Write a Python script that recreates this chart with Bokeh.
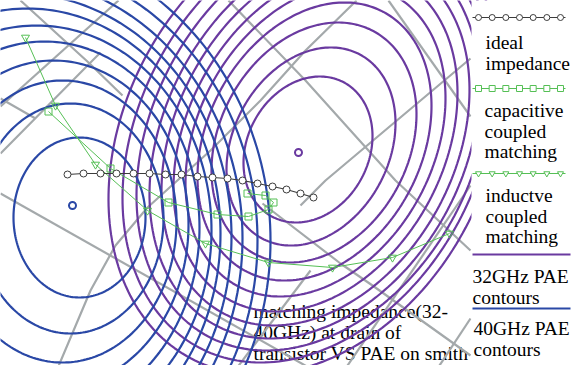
import numpy as np
from bokeh.plotting import figure
from bokeh.models import Range1d
from bokeh.core.properties import value
from bokeh.embed import file_html
from bokeh.resources import INLINE

# ------------------------------------------------------------------
# Data (picture pixel space, y downward)
# ------------------------------------------------------------------
# 40 GHz PAE contours (blue): centre and half extents
blue_cx = [79, 70, 62, 53, 44, 36, 27, 18, 9, 1, -8]
blue_cy = [217, 218, 221, 224, 227, 230, 233, 236, 238, 240, 240]
blue_rx = [66, 93, 114, 135, 155, 175, 193, 213, 233, 256, 278]
blue_ry = [80, 115, 141, 164, 186, 205, 225, 243, 261, 280, 300]

# 32 GHz PAE contours (purple): centre, horizontal / vertical half extents
pur_cx = [307.5, 310.5, 313.5, 314, 315, 315, 315, 314, 312, 308, 305]
pur_cy = [149, 146, 142, 141, 140, 140, 140, 140, 140, 141, 142]
pur_hh = [64.5, 84.5, 102.5, 117, 130, 142, 154, 165, 176, 186, 197]
pur_vh = [73, 99, 120, 139, 156, 171, 185, 198, 210, 221, 232]
pur_tilt_deg = 62   # long axis leans up to the right

# optimum points
opt_x = [72, 298]
opt_y = [205, 152]

# ideal impedance trajectory
ideal_x = [67, 83, 100, 116, 133, 149, 165, 181, 197, 212, 227, 242, 257, 272, 286, 300, 313]
ideal_y = [174, 173, 173, 173, 173, 173, 174, 174, 176, 177, 178, 180, 183, 186, 189, 193, 197]

# capacitive coupled matching
cap_x = [48, 110, 168, 217, 248, 268, 273, 265, 247]
cap_y = [111, 168, 202, 214, 216, 209, 202, 195, 193]

# inductive coupled matching
ind_x = [25, 55, 95, 147, 205, 268, 332, 392, 449]
ind_y = [37, 105, 164, 210, 243, 262, 267, 257, 233]

# Smith chart grid (gray) polylines
grid_xs = [
    [20, 88, 122],
    [0, 118],
    [0, 90, 100],
    [0, 35],
    [0, 310],
    [57, 90, 115, 147, 210, 260, 305, 356],
    [228, 305, 395, 470],
    [388, 470],
    [300, 325, 470],
    [345, 470],
    [262, 340, 372, 470],
    [437, 470],
    [236, 310],
]
grid_ys = [
    [0, 62, 95],
    [106, 0],
    [153, 62, 52],
    [98, 118],
    [193, 368],
    [368, 290, 245, 207, 150, 100, 50, 0],
    [0, 80, 180, 250],
    [0, 116],
    [205, 180, 58],
    [368, 185],
    [203, 263, 285, 355],
    [368, 318],
    [368, 270],
]

note_lines = ["matching impedance(32-", "40GHz) at drain of", "transistor VS PAE on smith"]
note_y = [311, 332, 353]

legend_labels = [
    ["ideal", "impedance"],
    ["capacitive", "coupled", "matching"],
    ["inductve", "coupled", "matching"],
    ["32GHz PAE", "contours"],
    ["40GHz PAE", "contours"],
]

# ------------------------------------------------------------------
BLUE = "#2a48a6"
PURPLE = "#6a3aa0"
GRAY = "#a4a9ab"
GREEN = "#55bf55"
DARK = "#3c3c3c"
FONT = value("Times New Roman")
FS = "19.5px"

t = np.linspace(0, 2 * np.pi, 241)


def outline(cx, cy, a, b, theta):
    # ellipse outline in data space (y grows downward); long axis a leans up-right by theta
    u = np.array([np.cos(theta), -np.sin(theta)])
    v = np.array([np.sin(theta), np.cos(theta)])
    xs = cx + a * np.cos(t) * u[0] + b * np.sin(t) * v[0]
    ys = cy + a * np.cos(t) * u[1] + b * np.sin(t) * v[1]
    return list(xs), list(ys)


p = figure(width=573, height=365, x_range=Range1d(0, 573), y_range=Range1d(365, 0),
           output_backend="svg", toolbar_location=None, min_border=0)
p.axis.visible = False
p.grid.visible = False
p.outline_line_color = None
p.background_fill_color = "white"

# annotation (drawn first so the chart lines run over it)
p.text(x=[253] * 3, y=note_y, text=note_lines, text_font=FONT, text_font_size=FS,
       text_color="black", text_baseline="alphabetic")

# gray Smith grid
p.multi_line(grid_xs, grid_ys, line_color=GRAY, line_width=2.2)

# purple contours (tilted ellipses from their half extents)
th = np.radians(pur_tilt_deg)
c2, s2 = np.cos(th) ** 2, np.sin(th) ** 2
hh = np.array(pur_hh, float); vh = np.array(pur_vh, float)
den = s2 * s2 - c2 * c2
pa = np.sqrt((s2 * vh ** 2 - c2 * hh ** 2) / den)
pb = np.sqrt((s2 * hh ** 2 - c2 * vh ** 2) / den)
pxs, pys = [], []
for cx, cy, a, b in zip(pur_cx, pur_cy, pa, pb):
    xs, ys = outline(cx, cy, a, b, th)
    pxs.append(xs); pys.append(ys)
p.multi_line(pxs, pys, line_color=PURPLE, line_width=2.2)

# blue contours
bxs, bys = [], []
for cx, cy, rx, ry in zip(blue_cx, blue_cy, blue_rx, blue_ry):
    xs, ys = outline(cx, cy, rx, ry, 0.0)
    bxs.append(xs); bys.append(ys)
p.multi_line(bxs, bys, line_color=BLUE, line_width=2.2)

# trajectories
p.line(cap_x, cap_y, line_color=GREEN, line_width=1)
p.scatter(cap_x, cap_y, marker="square", size=7, fill_color=None, line_color=GREEN, line_width=1)
p.line(ind_x, ind_y, line_color=GREEN, line_width=1)
p.scatter(ind_x, ind_y, marker="inverted_triangle", size=8, fill_color=None, line_color=GREEN, line_width=1)
p.line(ideal_x, ideal_y, line_color=DARK, line_width=1.2)
p.scatter(ideal_x, ideal_y, marker="circle", size=7, fill_color="white", line_color=DARK, line_width=1)

p.scatter(opt_x[:1], opt_y[:1], marker="circle", size=7, fill_color=None, line_color=BLUE, line_width=2)
p.scatter(opt_x[1:], opt_y[1:], marker="circle", size=7, fill_color=None, line_color=PURPLE, line_width=2)

# legend panel
p.quad(left=[471], right=[573], top=[0], bottom=[365], fill_color="white", line_color=None)
leg_line_y = [17, 88, 173, 254, 308]
leg_colors = [DARK, GREEN, GREEN, PURPLE, BLUE]
leg_markers = ["circle", "square", "inverted_triangle", None, None]
leg_text_x = [485, 484, 485, 472, 473]
leg_text_y0 = [42, 110, 195, 276, 328]
mx = np.linspace(478, 560, 7)
for ly, col, mk, tx, ty0, labs in zip(leg_line_y, leg_colors, leg_markers, leg_text_x, leg_text_y0, legend_labels):
    if mk is None:
        p.line([472, 570], [ly, ly], line_color=col, line_width=2.2)
    else:
        p.line([472, 565], [ly, ly], line_color=col, line_width=1)
        p.scatter(mx, [ly] * len(mx), marker=mk, size=6, fill_color="white", line_color=col, line_width=1)
    p.text(x=[tx] * len(labs), y=[ty0 + 20.5 * i for i in range(len(labs))], text=labs,
           text_font=FONT, text_font_size=FS, text_color="black", text_baseline="alphabetic")

open("out.html", "w").write(file_html(p, INLINE))
